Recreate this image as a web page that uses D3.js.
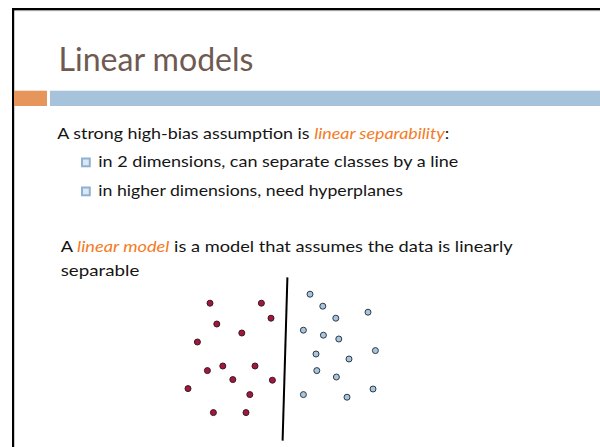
<!DOCTYPE html>
<html>
<head>
<meta charset="utf-8">
<script src="https://cdn.jsdelivr.net/npm/d3@7"></script>
<style>
  html, body { margin: 0; padding: 0; background: #fff; }
  svg { display: block; }
</style>
</head>
<body>
<svg id="slide" width="600" height="447"></svg>
<script>
// ---- data ----
const title = "Linear models";
const redX = [1.5, 4.07, 4.55, 1.84, 3.09, 0.87, 1.37, 2.14, 3.75, 2.64, 4.62, 0.4, 3.49, 1.67, 3.3];
const redY = [6.84, 6.84, 6.09, 5.8, 5.35, 4.9, 3.47, 3.7, 3.7, 3.02, 2.99, 2.57, 2.27, 1.37, 1.37];
const blueX = [6.5, 7.14, 9.4, 7.79, 6.17, 7.17, 7.94, 9.77, 6.8, 8.45, 6.84, 7.82, 6.17, 8.35, 9.65];
const blueY = [7.29, 6.69, 6.39, 6.09, 5.49, 5.24, 5.05, 4.47, 4.3, 4.05, 3.47, 3.15, 2.27, 2.14, 2.55];
const sepX = [5.37, 5.13];
const sepY = [8.13, -0.03];

const svg = d3.select("#slide");
const FONT = "Lato, 'Open Sans', sans-serif";

// frame
svg.append("rect").attr("x", 12).attr("y", 10).attr("width", 588).attr("height", 1.2).attr("fill", "#c8c8c8");
svg.append("rect").attr("x", 12).attr("y", 8).attr("width", 588).attr("height", 2.2).attr("fill", "#000");
svg.append("rect").attr("x", 12).attr("y", 8).attr("width", 2.2).attr("height", 439).attr("fill", "#000");

// title
svg.append("text").attr("x", 58.5).attr("y", 70.5)
  .attr("font-family", FONT).attr("font-size", 33).attr("fill", "#6e5a51")
  .attr("textLength", 195).attr("lengthAdjust", "spacingAndGlyphs")
  .text(title);

// header bars
svg.append("rect").attr("x", 14).attr("y", 90.7).attr("width", 33).attr("height", 15.3).attr("fill", "#e6965a");
svg.append("rect").attr("x", 50).attr("y", 90.7).attr("width", 550).attr("height", 15.3).attr("fill", "#a6c3db");

// body text
const ORANGE = "#f47b25", DARK = "#151515";
function line(x, y, len, parts) {
  const t = svg.append("text").attr("x", x).attr("y", y)
    .attr("font-family", FONT).attr("font-size", 16).attr("fill", DARK)
    .attr("textLength", len).attr("lengthAdjust", "spacingAndGlyphs");
  parts.forEach(p => {
    const s = t.append("tspan").text(p.t);
    if (p.o) s.attr("fill", ORANGE).attr("font-style", "italic");
  });
}
line(57.3, 139, 392, [{t: "A strong high-bias assumption is "}, {t: "linear separability", o: 1}, {t: ":"}]);
line(98.3, 167, 360, [{t: "in 2 dimensions, can separate classes by a line"}]);
line(98.3, 196, 304.5, [{t: "in higher dimensions, need hyperplanes"}]);
line(60.7, 251.7, 452, [{t: "A "}, {t: "linear model", o: 1}, {t: " is a model that assumes the data is linearly"}]);
line(60.7, 276, 78.6, [{t: "separable"}]);

// bullets
[158.5, 187.5].forEach(y => {
  svg.append("rect").attr("x", 82).attr("y", y).attr("width", 7.8).attr("height", 7.8)
    .attr("fill", "#dbe7f2").attr("stroke", "#8fb2d2").attr("stroke-width", 2);
});

// scatter
const x = d3.scaleLinear().domain([0, 10]).range([180, 380]);
const y = d3.scaleLinear().domain([0, 8]).range([440, 280]);

svg.append("line")
  .attr("x1", x(sepX[0])).attr("y1", y(sepY[0]))
  .attr("x2", x(sepX[1])).attr("y2", y(sepY[1]))
  .attr("stroke", "#000").attr("stroke-width", 2);

const red = redX.map((v, i) => ({x: v, y: redY[i]}));
const blue = blueX.map((v, i) => ({x: v, y: blueY[i]}));

svg.append("g").selectAll("circle").data(red).join("circle")
  .attr("cx", d => x(d.x)).attr("cy", d => y(d.y)).attr("r", 3)
  .attr("fill", "#a3173f").attr("stroke", "#3a1a22").attr("stroke-width", 1);
svg.append("g").selectAll("circle").data(blue).join("circle")
  .attr("cx", d => x(d.x)).attr("cy", d => y(d.y)).attr("r", 3)
  .attr("fill", "#a9c5dd").attr("stroke", "#2e3a45").attr("stroke-width", 1);
</script>
</body>
</html>
